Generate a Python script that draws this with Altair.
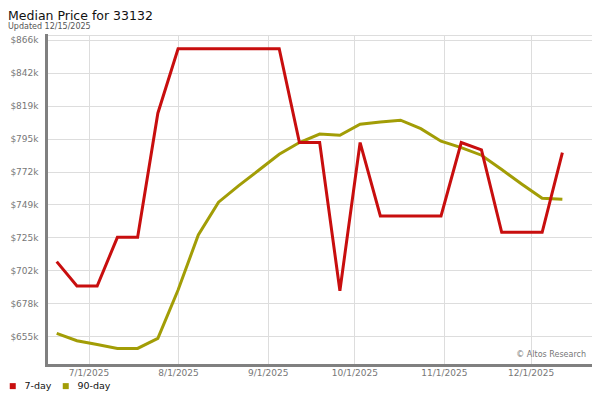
import altair as alt
import pandas as pd

dates = ["2025-06-20", "2025-06-27", "2025-07-04", "2025-07-11", "2025-07-18",
         "2025-07-25", "2025-08-01", "2025-08-08", "2025-08-15", "2025-08-22",
         "2025-08-29", "2025-09-05", "2025-09-12", "2025-09-19", "2025-09-26",
         "2025-10-03", "2025-10-10", "2025-10-17", "2025-10-24", "2025-10-31",
         "2025-11-07", "2025-11-14", "2025-11-21", "2025-11-28", "2025-12-05",
         "2025-12-12"]

day7 = [707900, 690600, 690600, 725200, 725200, 813500, 859300, 859300, 859300,
        859300, 859300, 859300, 792600, 792600, 687200, 792600, 740400, 740400,
        740400, 740400, 792600, 787400, 728800, 728800, 728800, 785500]

day90 = [656900, 651700, 649000, 646200, 646200, 653400, 687700, 726900, 750200,
         762000, 773100, 784300, 792600, 798600, 797800, 805700, 807300, 808500,
         802500, 793600, 789000, 783600, 773400, 763000, 753000, 752300]

series_names = ["7-day", "90-day"]
series_colors = ["#c80e0e", "#a29d06"]

y_ticks = [655000, 678400, 701800, 725200, 748600, 772000, 795400, 818800,
           842200, 865600]
x_ticks = [(2025, 7, 1), (2025, 8, 1), (2025, 9, 1), (2025, 10, 1),
           (2025, 11, 1), (2025, 12, 1)]

rows = []
for d, v in zip(dates, day7):
    rows.append({"date": d, "value": v, "series": "7-day"})
for d, v in zip(dates, day90):
    rows.append({"date": d, "value": v, "series": "90-day"})
df = pd.DataFrame(rows)

FONT = "DejaVu Sans"
W, H = 546, 330

x_enc = alt.X(
    "date:T",
    scale=alt.Scale(
        type="utc",
        domain=[alt.DateTime(year=2025, month=6, date=16, hours=7, utc=True),
                alt.DateTime(year=2025, month=12, date=22, hours=6, utc=True)],
    ),
    axis=alt.Axis(
        values=[alt.DateTime(year=y, month=m, date=dd, utc=True) for (y, m, dd) in x_ticks],
        labelExpr="utcFormat(datum.value, '%-m/%-d/%Y')",
        title=None, ticks=False, tickSize=0, labelPadding=3,
        labelFont=FONT, labelFontSize=9, labelColor="#777777",
        domainColor="#808080", domainWidth=3, domainCap="square",
        gridColor="#dddddd", gridWidth=1,
    ),
)
y_enc = alt.Y(
    "value:Q",
    scale=alt.Scale(domain=[634400, 869100], nice=False, zero=False),
    axis=alt.Axis(
        values=y_ticks,
        labelExpr="'$' + format(datum.value / 1000, '.0f') + 'k'",
        title=None, ticks=False, tickSize=0, labelPadding=8,
        labelFont=FONT, labelFontSize=9, labelColor="#777777",
        domainColor="#808080", domainWidth=3, domainCap="square",
        gridColor="#dddddd", gridWidth=1,
    ),
)
color_enc = alt.Color(
    "series:N",
    scale=alt.Scale(domain=series_names, range=series_colors),
    legend=alt.Legend(
        orient="none", legendX=-38, legendY=346, direction="horizontal",
        title=None, symbolType="square", symbolSize=1, symbolStrokeWidth=5,
        labelFont=FONT, labelFontSize=9.5, labelColor="#111111",
        labelOffset=7, columnPadding=3, padding=0,
    ),
)

base = alt.Chart(df).mark_line(strokeWidth=3).encode(x=x_enc, y=y_enc, color=color_enc)
olive = base.transform_filter(alt.datum.series == "90-day")
red = base.transform_filter(alt.datum.series == "7-day")

credit = alt.Chart(pd.DataFrame({"t": ["© Altos Research"]})).mark_text(
    align="right", baseline="alphabetic", font=FONT, fontSize=8, color="#777777"
).encode(text="t:N", x=alt.value(540), y=alt.value(322))

chart = alt.layer(olive, red, credit).properties(
    width=W, height=H,
    title=alt.TitleParams(
        text="Median Price for 33132",
        subtitle="Updated 12/15/2025",
        anchor="start", frame="group", dx=-38, offset=4,
        font=FONT, fontSize=12.5, fontWeight="normal", color="#111111",
        subtitleFont=FONT, subtitleFontSize=8, subtitleColor="#555555",
        subtitlePadding=1,
    ),
    autosize=alt.AutoSizeParams(type="none"),
    padding={"left": 38, "top": 27, "right": 0, "bottom": 27},
).configure_view(stroke="#dddddd", strokeWidth=1)

chart.save("out.html", embed_options={"renderer": "svg", "actions": False})
